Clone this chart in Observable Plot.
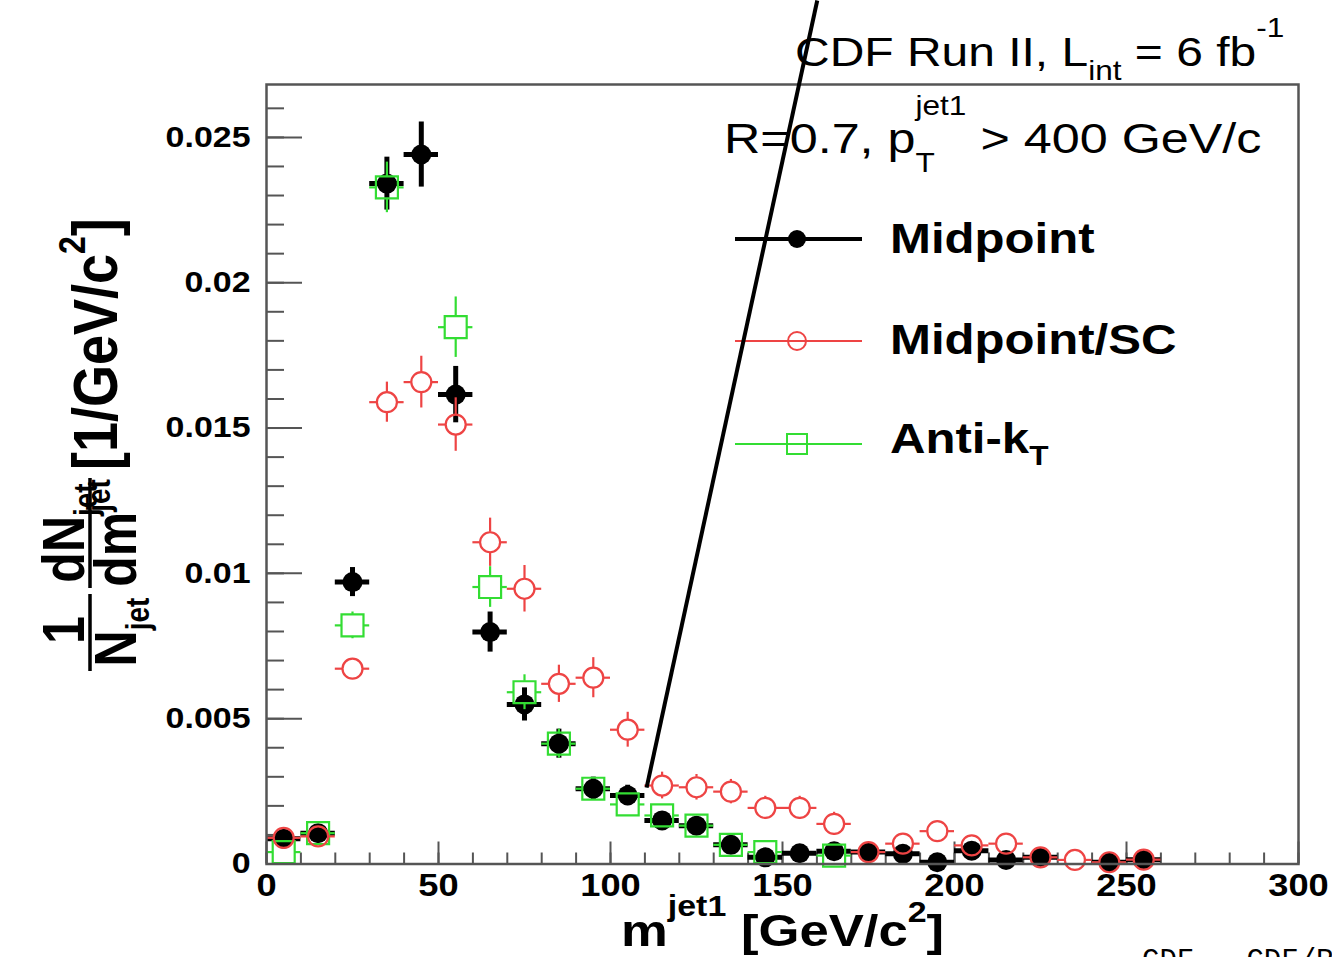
<!DOCTYPE html>
<html><head><meta charset="utf-8">
<script src="https://cdn.jsdelivr.net/npm/d3@7"></script>
<script src="https://cdn.jsdelivr.net/npm/@observablehq/plot@0.6"></script>
<style>html,body{margin:0;padding:0;background:#fff;overflow:hidden;}</style>
</head><body><div id="chart"></div>
<script>
// ---- data ----
const massBins = [5,15,25,35,45,55,65,75,85,95,105,115,125,135,145,155,165,175,185,195,205,215,225,235,245,255];
const binHalfWidth = 5;
const midpoint    = [0.00087,0.00106,0.0097,0.02341,0.02441,0.01615,0.00798,0.00549,0.00414,0.00259,0.00236,0.0015,0.00132,0.00066,0.00023,0.00037,0.00044,0.00041,0.00035,0.00006,0.00046,0.00014,0.00023,null,0.00006,0.00015];
const midpointErr = [0.0001,0.00012,0.0005,0.00091,0.00112,0.00097,0.00069,0.00057,0.0005,0.0004,0.00035,0.0003,0.0003,0.0002,0.00015,0.00015,0.00015,0.00015,0.00015,0.0001,0.00015,0.0001,0.0001,null,0.0001,0.0001];
const midpointSC    = [0.0009,0.00095,0.00672,0.01589,0.01658,0.01512,0.01107,0.00947,0.0062,0.00641,0.00462,0.0027,0.00264,0.00249,0.00193,0.00193,0.00138,0.00041,0.0007,0.00113,0.00064,0.0007,0.00023,0.00014,0.00006,0.00015];
const midpointSCErr = [0.0001,0.00012,0.00034,0.00069,0.00089,0.00092,0.00083,0.0008,0.00064,0.00069,0.0006,0.00046,0.00044,0.00042,0.0004,0.0004,0.0004,0.00015,0.0002,0.00034,0.0002,0.0002,0.0001,0.0001,0.0001,0.0001];
const antiKt    = [0.00041,0.00106,0.00821,0.02328,null,0.01847,0.00953,0.00591,0.00414,0.00259,0.00205,0.00167,0.00132,0.00066,0.00041,null,0.00029,null,null,null,null,null,null,null,null,null];
const antiKtErr = [0.0001,0.00012,0.00046,0.00087,null,0.00104,0.0007,0.0006,0.0005,0.0004,0.00035,0.0003,0.0003,0.0002,0.00015,null,0.00015,null,null,null,null,null,null,null,null,null];
const seriesNames = ["Midpoint","Midpoint/SC","Anti-k"];
const xTickValues = [0,50,100,150,200,250,300];
const yTickValues = [0,0.005,0.01,0.015,0.02,0.025];
const annotationX = [110.5,160.1];
const annotationY = [0.00263,0.02971];

// ---- layout ----
const W = 1332, H = 957;
const mL = 266, mR = 34, mT = 84, mB = 93.5;
const plotW = W - mL - mR, plotH = H - mT - mB;
const yMax = 0.02682;
const pxPerY = plotH / yMax;
const SX = 1.17;
const RED = "#ee4444", GREEN = "#33dd33", AXIS = "#555";
const R = 10;

function rows(vals, errs) {
  return massBins.map((m, i) => ({m, v: vals[i], e: errs[i]})).filter(d => d.v != null);
}
const blackRows = rows(midpoint, midpointErr);
const redRows = rows(midpointSC, midpointSCErr);
const greenRows = rows(antiKt, antiKtErr);
const annot = [{x1: annotationX[0], y1: annotationY[0], x2: annotationX[1], y2: annotationY[1]}];

function openBars(data, color, rad) {
  const big = data.filter(d => d.e * pxPerY > rad + 1);
  return [
    Plot.ruleX(big, {x: "m", y1: d => d.v + d.e, y2: "v", insetBottom: rad, stroke: color, strokeWidth: 2.2}),
    Plot.ruleX(big, {x: "m", y1: "v", y2: d => Math.max(0, d.v - d.e), insetTop: rad, stroke: color, strokeWidth: 2.2}),
    Plot.ruleY(data, {y: "v", x1: d => d.m - binHalfWidth, x2: "m", insetRight: rad, stroke: color, strokeWidth: 2.2}),
    Plot.ruleY(data, {y: "v", x1: "m", x2: d => d.m + binHalfWidth, insetLeft: rad, stroke: color, strokeWidth: 2.2})
  ];
}

const yMinor = d3.range(0, 0.0265, 0.001);
const xMinor = d3.range(0, 301, 10);

const plot = Plot.plot({
  width: W, height: H,
  marginLeft: mL, marginRight: mR, marginTop: mT, marginBottom: mB,
  style: {fontFamily: "Liberation Sans", background: "white", color: "black"},
  x: {domain: [0, 300]},
  y: {domain: [0, yMax]},
  marks: [
    Plot.tickY(yMinor, {y: d => d, insetRight: plotW - 18, stroke: AXIS, strokeWidth: 2}),
    Plot.tickY(yTickValues, {y: d => d, insetRight: plotW - 36, stroke: AXIS, strokeWidth: 2}),
    Plot.tickX(xMinor, {x: d => d, insetTop: plotH - 11, stroke: AXIS, strokeWidth: 2}),
    Plot.tickX(xTickValues, {x: d => d, insetTop: plotH - 22, stroke: AXIS, strokeWidth: 2}),
    Plot.axisY(yTickValues, {tickSize: 0, tickPadding: 16, fontSize: 29, fontWeight: "bold", label: null,
      tickFormat: d => d === 0 ? "0" : d3.format(".3~f")(d)}),
    Plot.axisX(xTickValues, {tickSize: 0, tickPadding: 10, fontSize: 31, fontWeight: "bold", label: null}),
    // Midpoint (black, filled)
    Plot.ruleX(blackRows, {x: "m", y1: d => Math.max(0, d.v - d.e), y2: d => d.v + d.e, stroke: "black", strokeWidth: 5}),
    Plot.ruleY(blackRows, {y: "v", x1: d => d.m - binHalfWidth, x2: d => d.m + binHalfWidth, stroke: "black", strokeWidth: 5}),
    Plot.dot(blackRows, {x: "m", y: "v", r: R, fill: "black", stroke: "none"}),
    // Anti-kT (green open squares)
    ...openBars(greenRows, GREEN, 11),
    Plot.dot(greenRows, {x: "m", y: "v", r: 12.4, symbol: "square", fill: "none", stroke: GREEN, strokeWidth: 2.2}),
    // Midpoint/SC (red open circles)
    ...openBars(redRows, RED, R),
    Plot.dot(redRows, {x: "m", y: "v", r: R, fill: "none", stroke: RED, strokeWidth: 2.2}),
    Plot.frame({stroke: AXIS, strokeWidth: 2.5}),
    Plot.link(annot, {x1: "x1", y1: "y1", x2: "x2", y2: "y2", stroke: "black", strokeWidth: 4})
  ]
});
document.getElementById("chart").appendChild(plot);

// stretch tick labels horizontally like the reference (keep their own y/dy offsets)
function stretch(el, s) {
  const xa = el.getAttribute("x");
  if (xa != null && !isNaN(+xa)) el.setAttribute("x", +xa / s);
  const t = el.getAttribute("transform") || "";
  el.setAttribute("transform", `${t} scale(${s},1)`);
}
plot.querySelectorAll('[aria-label$="tick label"] text').forEach(el => stretch(el, SX));

const svg = d3.select(plot);
function richText(parent, x, y, parts, o) {
  const t = parent.append("text")
    .attr("transform", `translate(${x},${y}) scale(${o.sx ?? SX},1)`)
    .attr("font-family", o.family || "Liberation Sans")
    .attr("font-size", o.size)
    .attr("font-weight", o.weight || "normal")
    .attr("text-anchor", o.anchor || "start")
    .attr("fill", o.fill || "black")
    .style("white-space", "pre");
  let cur = 0;
  for (const p of parts) {
    const sp = t.append("tspan").text(p.t);
    const sh = p.shift || 0;
    if (sh !== cur) { sp.attr("dy", sh - cur); cur = sh; }
    if (p.size) sp.attr("font-size", p.size);
    if (p.dx) sp.attr("dx", p.dx);
  }
  return t;
}

// header texts
richText(svg, 795, 66, [{t: "CDF Run II, L"}, {t: "int", size: 27, shift: 14}, {t: " = 6 fb", shift: 0}, {t: "-1", size: 27, shift: -29}], {size: 41});
richText(svg, 724, 153, [{t: "R=0.7, p"}, {t: "T", size: 27, shift: 19}, {t: "jet1", size: 27, shift: -38, dx: -16.5}, {t: " > 400 GeV/c", shift: 0}], {size: 43});

// legend
const lg = svg.append("g");
const legY = [239, 341, 444];
lg.append("line").attr("x1", 735).attr("x2", 862).attr("y1", legY[0]).attr("y2", legY[0]).attr("stroke", "black").attr("stroke-width", 4);
lg.append("circle").attr("cx", 797).attr("cy", legY[0]).attr("r", 9).attr("fill", "black");
lg.append("line").attr("x1", 735).attr("x2", 862).attr("y1", legY[1]).attr("y2", legY[1]).attr("stroke", RED).attr("stroke-width", 2);
lg.append("circle").attr("cx", 797).attr("cy", legY[1]).attr("r", 9).attr("fill", "none").attr("stroke", RED).attr("stroke-width", 2);
lg.append("line").attr("x1", 735).attr("x2", 862).attr("y1", legY[2]).attr("y2", legY[2]).attr("stroke", GREEN).attr("stroke-width", 2);
lg.append("rect").attr("x", 787).attr("y", legY[2] - 10).attr("width", 20).attr("height", 20).attr("fill", "none").attr("stroke", GREEN).attr("stroke-width", 2);
richText(lg, 890, 253, [{t: seriesNames[0]}], {size: 42, weight: "bold"});
richText(lg, 890, 354, [{t: seriesNames[1]}], {size: 42, weight: "bold"});
richText(lg, 890, 453, [{t: seriesNames[2]}, {t: "T", size: 27, shift: 12}], {size: 42, weight: "bold"});

// x-axis title
richText(svg, 621, 946, [{t: "m"}, {t: "jet1", size: 29, shift: -30}, {t: " [GeV/c", shift: 0}, {t: "2", size: 29, shift: -24}, {t: "]", shift: 0}], {size: 45, weight: "bold"});

// y-axis title (rotated; glyph heights stretched along page x)
const gy = svg.append("g").attr("transform", `translate(90,0) scale(${SX},1) rotate(-90)`);
function rt(parts, u, v, size, anchor) {
  return richText(gy, u, v, parts, {size, weight: "bold", anchor, sx: 1});
}
rt([{t: "1"}], -630, -5, 50, "middle");
rt([{t: "N"}, {t: "jet", size: 28, shift: 11}], -632, 39, 50, "middle");
gy.append("line").attr("x1", -671).attr("x2", -594).attr("y1", 0).attr("y2", 0).attr("stroke", "black").attr("stroke-width", 3);
rt([{t: "dN"}, {t: "jet", size: 28, shift: 11}], -533, -5, 50, "middle");
rt([{t: "dm"}, {t: "jet", size: 28, shift: -22}], -533, 39, 50, "middle");
gy.append("line").attr("x1", -588).attr("x2", -478).attr("y1", 0).attr("y2", 0).attr("stroke", "black").attr("stroke-width", 3);
rt([{t: "[1/GeV/c"}, {t: "2", size: 32, shift: -27}, {t: "]", shift: 0}], -470, 23, 54, "start");

// bottom-right caption (cut off by the page edge, as in the reference)
richText(svg, 1142, 969, [{t: "CDF - CDF/Run II"}], {size: 29, family: "Liberation Mono", sx: 1});

// keep annotation line on top
const link = plot.querySelector('g[aria-label="link"]');
if (link) plot.appendChild(link);
</script>
</body></html>
